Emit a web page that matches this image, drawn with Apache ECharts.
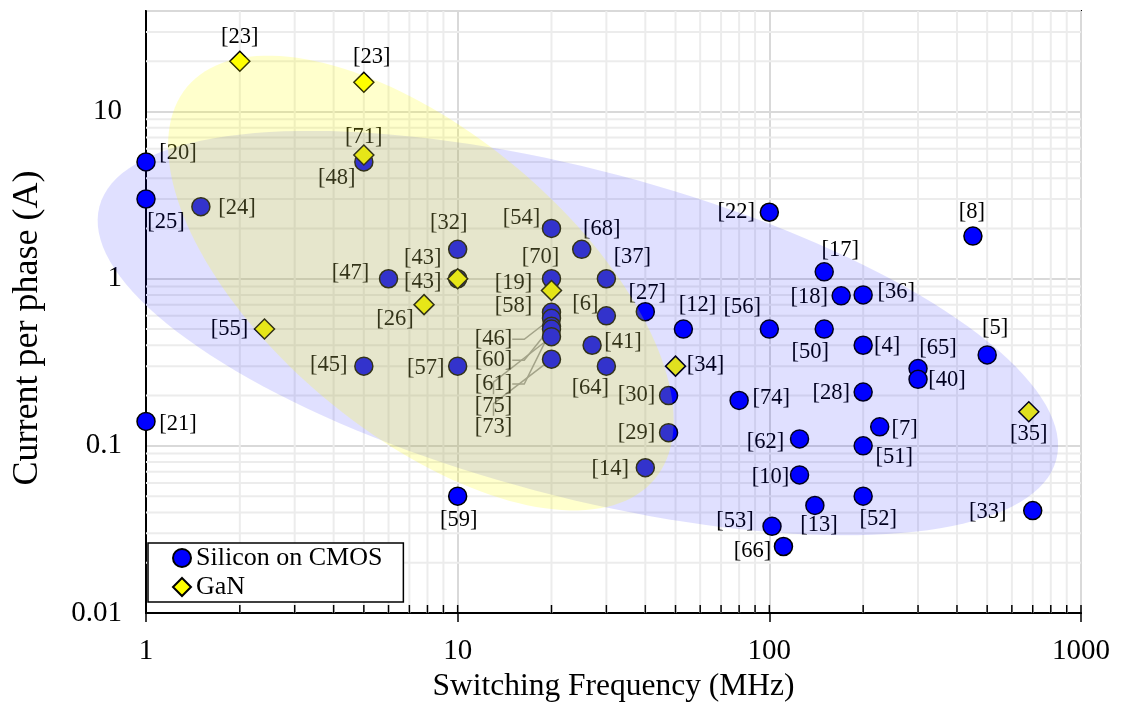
<!DOCTYPE html>
<html><head><meta charset="utf-8">
<script src="https://cdn.jsdelivr.net/npm/echarts@6/dist/echarts.min.js"></script>
<style>html,body{margin:0;padding:0;background:#fff}#c{width:1126px;height:704px}</style>
</head><body><div id="c"></div>
<script>
// ---------- data ----------
const siRefs = ['[20]','[25]','[24]','[48]','[47]','[43]','[32]','[45]','[57]','[21]','[59]','[54]','[68]','[70]','[58]','[46]','[60]','[61]','[75]','[73]','[37]','[6]','[41]','[64]','[27]','[12]','[30]','[29]','[14]','[22]','[56]','[74]','[62]','[10]','[53]','[66]','[13]','[17]','[18]','[36]','[50]','[4]','[28]','[7]','[51]','[52]','[65]','[40]','[5]','[8]','[33]'];
const siFreq = [1,1,1.5,5,6,10,10,5,10,1,10,20,25,20,20,20,20,20,20,20,30,30,27,30,40,53,47.5,47.5,40,100,100,80,125,125,102,111,140,150,170,200,150,200,200,226,200,200,300,300,500,450,700];
const siCurrent = [5,3,2.7,5,1,1,1.5,0.3,0.3,0.14,0.05,2,1.5,1,0.63,0.58,0.52,0.5,0.45,0.33,1,0.6,0.4,0.3,0.635,0.5,0.2,0.12,0.074,2.5,0.5,0.187,0.11,0.067,0.033,0.025,0.044,1.1,0.79,0.8,0.5,0.4,0.21,0.13,0.1,0.05,0.29,0.25,0.35,1.8,0.041];

const ganRefs = ['[23]','[23]','[71]','[43]','[26]','[55]','[19]','[34]','[35]'];
const ganFreq = [2,5,5,10,7.8,2.4,20,50,680];
const ganCurrent = [20,15,5.5,1,0.7,0.5,0.85,0.3,0.16];

const xMinor = [2,3,4,5,6,7,8,9,20,30,40,50,60,70,80,90,200,300,400,500,600,700,800,900];
const xMajor = [1,10,100,1000];
const yMinor = [0.02,0.03,0.04,0.05,0.06,0.07,0.08,0.09,0.2,0.3,0.4,0.5,0.6,0.7,0.8,0.9,2,3,4,5,6,7,8,9,20,30];

// shaded regions: centre (MHz, A) and two conjugate semi-axes in decades (log10 x, log10 y)
const siliconRegionCenter = [24.3, 0.473];
const siliconRegionAxisU = [1.535, -0.758];
const siliconRegionAxisV = [-0.134, -0.943];
const ganRegionCenter = [7.62, 0.943];
const ganRegionAxisU = [0.750, -1.174];
const ganRegionAxisV = [-0.309, -0.688];

// ---------- label layout (offsets in px from marker centre) ----------
const siLabelOffset = [[32,-9],[20,23],[36,1],[-27,16],[-38,-6],[-35,-21],[-9,-26],[-35,-1],[-32,2],[32,3],[1,24],[-30,-10],[20,-20],[-11,-22],[-38,-6],[-58,21],[-58,34],[-58,55],[-58,69],[-58,68],[26,-22],[-21,-12],[31,-3],[-16,22],[2,-19],[14,-24],[-32,0],[-32,0],[-35,1],[-33,0],[-27,-22],[32,-2],[-34,3],[-29,2],[-37,-5],[-31,5],[4,20],[16,-22],[-32,1],[33,-3],[-14,23],[24,1],[-32,1],[25,2],[31,11],[15,23],[20,-21],[29,1],[8,-27],[-1,-24],[-45,2]];
const ganLabelOffset = [[0,-24],[8,-25],[0,-18],[-35,3],[-29,14],[-35,0],[-38,-7],[30,-1],[0,22]];
const leaderRefs = new Set(['[46]','[60]','[61]','[75]','[73]']);

const FONT = "'Liberation Serif','Times New Roman',serif";

function layoutFrom(offsets){
  return function(p){
    const o = offsets[p.dataIndex];
    return {x: p.rect.x + p.rect.width/2 + o[0], y: p.rect.y + p.rect.height/2 + o[1], align:'center', verticalAlign:'middle'};
  };
}
function ellipseRenderer(center, u, v, fill){
  return function(params, api){
    const pts = [];
    const lx0 = Math.log10(center[0]), ly0 = Math.log10(center[1]);
    for (let i = 0; i <= 160; i++){
      const t = 2*Math.PI*i/160;
      const lx = lx0 + u[0]*Math.cos(t) + v[0]*Math.sin(t);
      const ly = ly0 + u[1]*Math.cos(t) + v[1]*Math.sin(t);
      pts.push(api.coord([Math.pow(10,lx), Math.pow(10,ly)]));
    }
    return {type:'polygon', shape:{points:pts}, style:{fill:fill}, silent:true};
  };
}
function decadeLabel(v){ const l = Math.log10(v); return Math.abs(l-Math.round(l))<1e-6 ? String(Number(v.toPrecision(6))) : ''; }

const chart = echarts.init(document.getElementById('c'), null, {renderer:'canvas'});
const option = {
  animation:false,
  backgroundColor:'#fff',
  textStyle:{fontFamily:FONT},
  grid:{left:146, right:45, top:11, bottom:91, outerBoundsMode:'none', containLabel:false, show:true, borderColor:'#000', borderWidth:2, backgroundColor:'transparent'},
  legend:{
    data:[{name:'Silicon on CMOS', icon:'circle'},{name:'GaN', icon:'diamond'}],
    orient:'vertical', left:148, top:543, z:20,
    padding:[2,21,2,24], itemGap:3, itemWidth:18, itemHeight:18,
    backgroundColor:'#fff', borderColor:'#000', borderWidth:1.5,
    textStyle:{fontSize:26, color:'#000', fontFamily:FONT}
  },
  xAxis:{
    type:'log', logBase:10, min:1, max:1000,
    name:'Switching Frequency (MHz)', nameLocation:'middle', nameGap:56,
    nameTextStyle:{fontSize:31.5, color:'#000', fontFamily:FONT},
    axisLine:{show:true, lineStyle:{color:'#000', width:2}},
    axisTick:{show:true, length:9, lineStyle:{color:'#000', width:1.5}},
    axisLabel:{fontSize:29, color:'#000', margin:24, fontFamily:FONT, formatter:decadeLabel},
    splitLine:{show:true, lineStyle:{color:'#d9d9d9', width:2}}
  },
  yAxis:{
    type:'log', logBase:10, min:0.01, max:40,
    name:'Current per phase (A)', nameLocation:'middle', nameGap:100,
    nameTextStyle:{fontSize:36, color:'#000', fontFamily:FONT, padding:[0,32,0,0]},
    axisLine:{show:true, lineStyle:{color:'#000', width:2}},
    axisTick:{show:false},
    axisLabel:{fontSize:29, color:'#000', margin:24, fontFamily:FONT, formatter:decadeLabel},
    splitLine:{show:true, lineStyle:{color:'#d9d9d9', width:2}}
  },
  series:[
    { // minor vertical grid
      type:'custom', z:1, silent:true,
      data:xMinor.map(v=>[v,1]),
      renderItem:function(params, api){
        const cs = params.coordSys; const x = api.coord([api.value(0),1])[0];
        return {type:'line', shape:{x1:x, y1:cs.y, x2:x, y2:cs.y+cs.height}, style:{stroke:'#ececec', lineWidth:2}};
      }
    },
    { // minor horizontal grid
      type:'custom', z:1, silent:true,
      data:yMinor.map(v=>[1,v]),
      renderItem:function(params, api){
        const cs = params.coordSys; const y = api.coord([1,api.value(1)])[1];
        return {type:'line', shape:{x1:cs.x, y1:y, x2:cs.x+cs.width, y2:y}, style:{stroke:'#ececec', lineWidth:2}};
      }
    },
    {
      name:'Silicon on CMOS', type:'scatter', z:2, clip:false,
      symbol:'circle', symbolSize:18,
      itemStyle:{color:'#0000ff', borderColor:'#000', borderWidth:1.5, opacity:1},
      label:{show:true, formatter:p=>p.name, fontSize:22.5, color:'#000', fontFamily:FONT},
      labelLine:{show:false, length2:12, lineStyle:{color:'#a0a0a0', width:1.5}},
      labelLayout:layoutFrom(siLabelOffset),
      data:siFreq.map((f,i)=>{
        const d = {name:siRefs[i], value:[f, siCurrent[i]]};
        if (leaderRefs.has(siRefs[i])) d.labelLine = {show:true, length2:12, lineStyle:{color:'#a0a0a0', width:1.5}};
        return d;
      })
    },
    {
      name:'GaN', type:'scatter', z:3, clip:false,
      symbol:'diamond', symbolSize:20,
      itemStyle:{color:'#ffff00', borderColor:'#000', borderWidth:1.5, opacity:1},
      label:{show:true, formatter:p=>p.name, fontSize:22.5, color:'#000', fontFamily:FONT},
      labelLayout:layoutFrom(ganLabelOffset),
      data:ganFreq.map((f,i)=>({name:ganRefs[i], value:[f, ganCurrent[i]]}))
    },
    {
      type:'custom', z:4, silent:true, clip:false,
      data:[siliconRegionCenter],
      renderItem:ellipseRenderer(siliconRegionCenter, siliconRegionAxisU, siliconRegionAxisV, 'rgba(0,0,255,0.12)')
    },
    {
      type:'custom', z:5, silent:true, clip:false,
      data:[ganRegionCenter],
      renderItem:ellipseRenderer(ganRegionCenter, ganRegionAxisU, ganRegionAxisV, 'rgba(255,255,0,0.2)')
    },
    { // inward ticks on the frequency axis
      type:'custom', z:6, silent:true,
      data:xMajor.concat(xMinor).map(v=>[v,1]),
      renderItem:function(params, api){
        const cs = params.coordSys; const x = api.coord([api.value(0),1])[0]; const yb = cs.y+cs.height;
        return {type:'line', shape:{x1:x, y1:yb, x2:x, y2:yb-8}, style:{stroke:'#000', lineWidth:1.5}};
      }
    }
  ]
};
chart.setOption(option);
</script>
</body></html>
